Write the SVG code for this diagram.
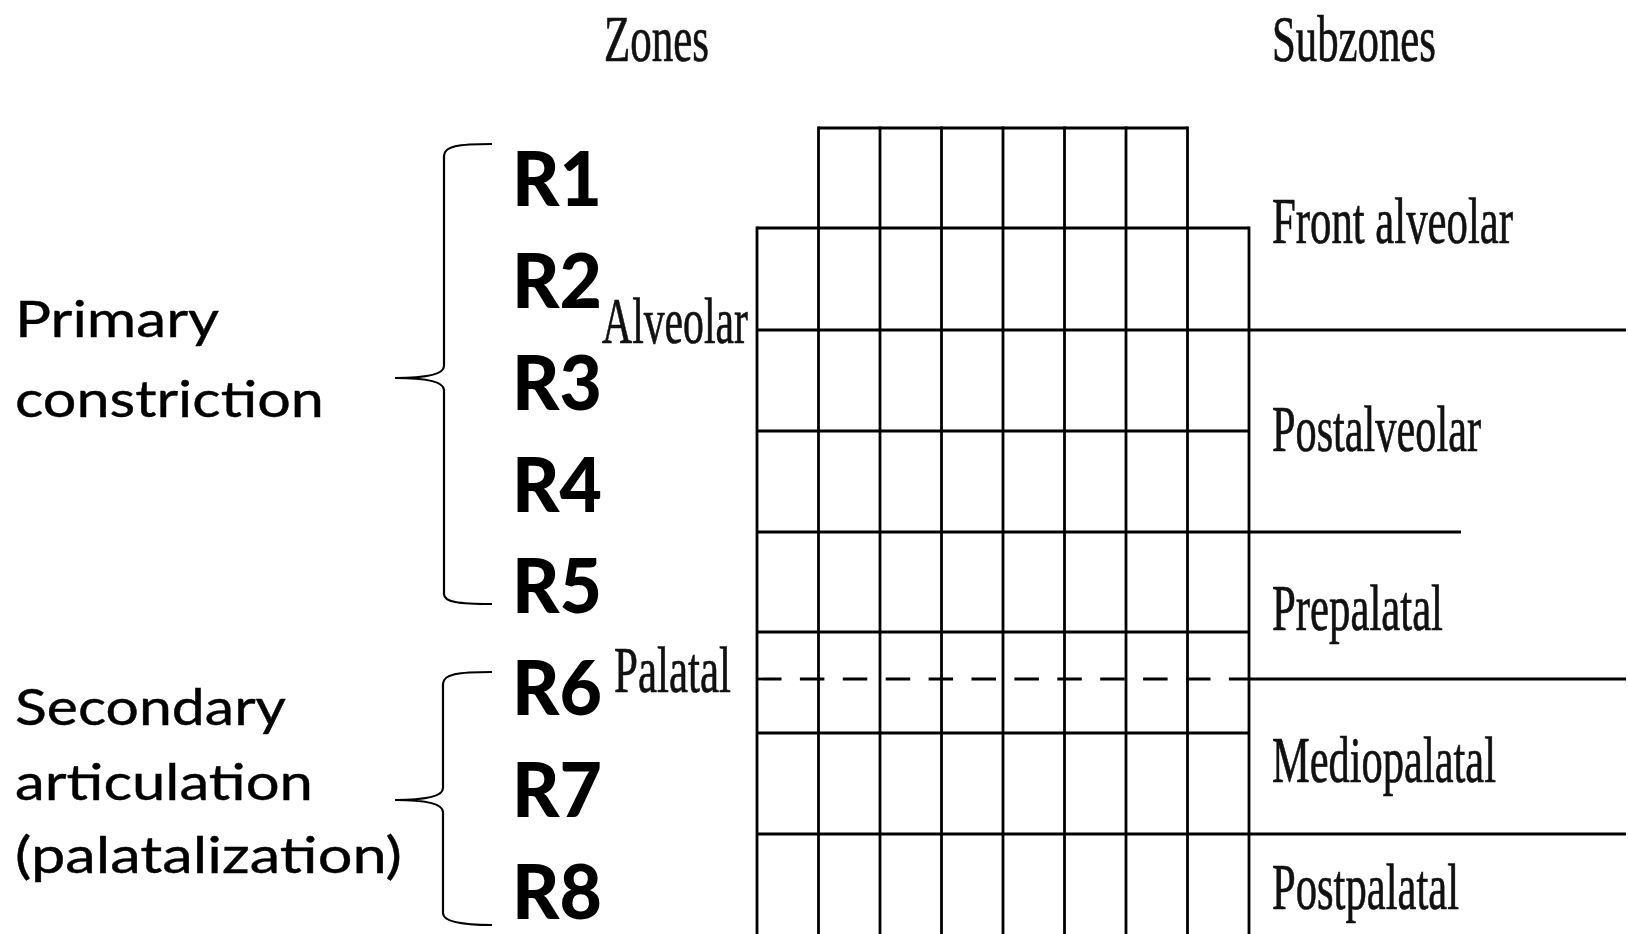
<svg xmlns="http://www.w3.org/2000/svg" width="1628" height="934" viewBox="0 0 1628 934">
<style>
.g{stroke:#000;stroke-width:2.8;fill:none}
.d{stroke:#000;stroke-width:2.8;fill:none;stroke-dasharray:24.5 18.4}
.br{stroke:#000;stroke-width:2.2;fill:none}
.s{font-family:"Liberation Serif","Times New Roman",serif;font-size:66px;fill:#111;stroke:#111;stroke-width:0.7}
.c{font-family:Lato,"Noto Sans",sans-serif;font-size:50px;fill:#000;stroke:#000;stroke-width:0.4}
.r{font-family:Lato,"Noto Sans",sans-serif;font-size:76px;font-weight:900;fill:#000}
</style>
<rect width="1628" height="934" fill="#fff"/>
<g id="grid">
<line class="g" x1="818.5" y1="128" x2="1187.5" y2="128"/>
<line class="g" x1="757" y1="228" x2="1249" y2="228"/>
<line class="g" x1="757" y1="330" x2="1626" y2="330"/>
<line class="g" x1="757" y1="431" x2="1249" y2="431"/>
<line class="g" x1="757" y1="532" x2="1461" y2="532"/>
<line class="g" x1="757" y1="632" x2="1249" y2="632"/>
<line class="d" x1="757" y1="679" x2="1249" y2="679"/>
<line class="g" x1="1249" y1="679" x2="1626" y2="679"/>
<line class="g" x1="757" y1="733" x2="1249" y2="733"/>
<line class="g" x1="757" y1="834" x2="1626" y2="834"/>
<line class="g" x1="757" y1="226.6" x2="757" y2="934"/>
<line class="g" x1="818.5" y1="126.6" x2="818.5" y2="934"/>
<line class="g" x1="880" y1="126.6" x2="880" y2="934"/>
<line class="g" x1="941.5" y1="126.6" x2="941.5" y2="934"/>
<line class="g" x1="1003" y1="126.6" x2="1003" y2="934"/>
<line class="g" x1="1064.5" y1="126.6" x2="1064.5" y2="934"/>
<line class="g" x1="1126" y1="126.6" x2="1126" y2="934"/>
<line class="g" x1="1187.5" y1="126.6" x2="1187.5" y2="934"/>
<line class="g" x1="1249" y1="226.6" x2="1249" y2="934"/>
</g>
<g id="headers">
<text class="s" x="604" y="61" textLength="105" lengthAdjust="spacingAndGlyphs">Zones</text>
<text class="s" x="1272" y="61" textLength="164" lengthAdjust="spacingAndGlyphs">Subzones</text>
</g>
<g id="zones">
<text class="s" x="602" y="343" textLength="146" lengthAdjust="spacingAndGlyphs">Alveolar</text>
<text class="s" x="614" y="692" textLength="117" lengthAdjust="spacingAndGlyphs">Palatal</text>
</g>
<g id="subzones">
<text class="s" x="1272" y="243" textLength="241" lengthAdjust="spacingAndGlyphs">Front alveolar</text>
<text class="s" x="1272" y="451" textLength="209" lengthAdjust="spacingAndGlyphs">Postalveolar</text>
<text class="s" x="1272" y="630" textLength="171" lengthAdjust="spacingAndGlyphs">Prepalatal</text>
<text class="s" x="1272" y="782" textLength="224" lengthAdjust="spacingAndGlyphs">Mediopalatal</text>
<text class="s" x="1272" y="909" textLength="187" lengthAdjust="spacingAndGlyphs">Postpalatal</text>
</g>
<g id="rows">
<text class="r" x="512" y="206" textLength="90" lengthAdjust="spacingAndGlyphs">R1</text>
<text class="r" x="512" y="308" textLength="90" lengthAdjust="spacingAndGlyphs">R2</text>
<text class="r" x="512" y="410" textLength="90" lengthAdjust="spacingAndGlyphs">R3</text>
<text class="r" x="512" y="512" textLength="90" lengthAdjust="spacingAndGlyphs">R4</text>
<text class="r" x="512" y="613" textLength="90" lengthAdjust="spacingAndGlyphs">R5</text>
<text class="r" x="512" y="715" textLength="90" lengthAdjust="spacingAndGlyphs">R6</text>
<text class="r" x="512" y="817" textLength="90" lengthAdjust="spacingAndGlyphs">R7</text>
<text class="r" x="512" y="919" textLength="90" lengthAdjust="spacingAndGlyphs">R8</text>
</g>
<g id="primary">
<path class="br" d="M492,144 C458,144 444,146 444,156 L444,366 C444,374 428,378 395,378 C428,378 444,382 444,390 L444,594 C444,602 458,604 492,604"/>
<text class="c" x="15" y="337" textLength="204" lengthAdjust="spacingAndGlyphs">Primary</text>
<text class="c" x="15" y="417" textLength="309" lengthAdjust="spacingAndGlyphs">constriction</text>
</g>
<g id="secondary">
<path class="br" d="M492,672 C458,672 443,674 443,684 L443,788 C443,796 428,800 395,800 C428,800 443,804 443,812 L443,913 C443,921 458,925 492,925"/>
<text class="c" x="15" y="725" textLength="271" lengthAdjust="spacingAndGlyphs">Secondary</text>
<text class="c" x="15" y="800" textLength="298" lengthAdjust="spacingAndGlyphs">articulation</text>
<text class="c" x="15" y="873" textLength="387" lengthAdjust="spacingAndGlyphs">(palatalization)</text>
</g>
</svg>
